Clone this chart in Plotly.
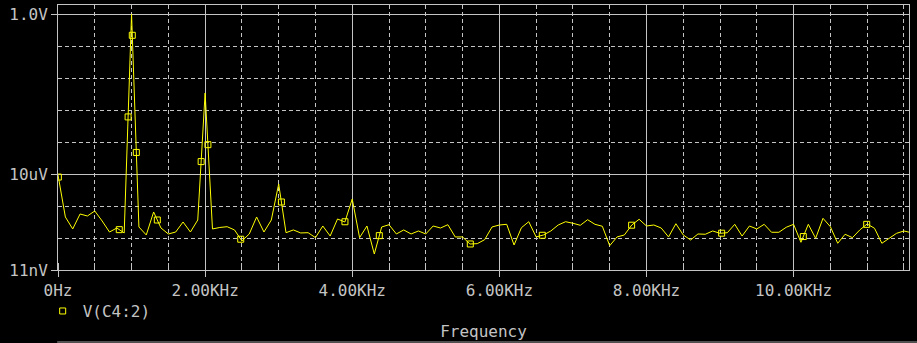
import numpy as np
import plotly.graph_objects as go

# FFT bins (Hz)
freq_hz = [
    0, 100, 200, 300, 400, 500, 600, 700, 800, 900,
    1000, 1100, 1200, 1300, 1400, 1500, 1600, 1700, 1800, 1900,
    2000, 2100, 2200, 2300, 2400, 2500, 2600, 2700, 2800, 2900,
    3000, 3100, 3200, 3300, 3400, 3500, 3600, 3700, 3800, 3900,
    4000, 4100, 4200, 4300, 4400, 4500, 4600, 4700, 4800, 4900,
    5000, 5100, 5200, 5300, 5400, 5500, 5600, 5700, 5800, 5900,
    6000, 6100, 6200, 6300, 6400, 6500, 6600, 6700, 6800, 6900,
    7000, 7100, 7200, 7300, 7400, 7500, 7600, 7700, 7800, 7900,
    8000, 8100, 8200, 8300, 8400, 8500, 8600, 8700, 8800, 8900,
    9000, 9100, 9200, 9300, 9400, 9500, 9600, 9700, 9800, 9900,
    10000, 10100, 10200, 10300, 10400, 10500, 10600, 10700, 10800, 10900,
    11000, 11100, 11200, 11300, 11400, 11500, 11600,
]

# V(C4:2) magnitude (V)
v_c4_2 = [
    1.01e-5, 4.94e-7, 2.09e-7, 6.12e-7, 5.31e-7, 7.60e-7, 3.71e-7, 1.68e-7, 2.24e-7, 1.57e-7,
    1.05, 2.41e-7, 1.36e-7, 7.08e-7, 2.24e-7, 1.46e-7, 1.68e-7, 3.45e-7, 1.68e-7, 3.98e-7,
    3.62e-3, 2.09e-7, 2.33e-7, 2.46e-7, 1.95e-7, 8.83e-8, 1.46e-7, 4.94e-7, 1.68e-7, 3.98e-7,
    5.28e-6, 1.60e-7, 1.95e-7, 1.57e-7, 1.60e-7, 1.12e-7, 2.59e-7, 1.26e-7, 4.28e-7, 3.45e-7,
    1.80e-6, 1.12e-7, 2.59e-7, 3.47e-8, 2.41e-7, 2.84e-7, 1.46e-7, 1.95e-7, 1.46e-7, 1.81e-7,
    1.46e-7, 2.59e-7, 2.24e-7, 2.84e-7, 1.18e-7, 1.18e-7, 7.11e-8, 7.28e-8, 9.69e-8, 2.41e-7,
    2.78e-7, 2.92e-7, 6.62e-8, 2.29e-7, 3.52e-7, 1.18e-7, 1.36e-7, 1.81e-7, 2.78e-7, 3.52e-7,
    3.15e-7, 2.72e-7, 4.07e-7, 2.92e-7, 2.54e-7, 6.30e-8, 1.18e-7, 1.36e-7, 2.78e-7, 4.19e-7,
    2.59e-7, 2.78e-7, 2.24e-7, 1.18e-7, 3.05e-7, 1.36e-7, 9.48e-8, 1.46e-7, 1.43e-7, 1.81e-7,
    1.53e-7, 1.60e-7, 2.92e-7, 1.26e-7, 2.59e-7, 2.09e-7, 2.92e-7, 1.65e-7, 1.65e-7, 2.36e-7,
    2.92e-7, 8.04e-8, 2.92e-7, 1.07e-7, 4.50e-7, 2.46e-7, 7.48e-8, 1.43e-7, 1.12e-7, 1.95e-7,
    2.99e-7, 2.20e-7, 7.48e-8, 1.07e-7, 1.53e-7, 1.81e-7, 1.60e-7,
]

# frequencies along the trace where PSpice drew its marker squares
marker_freq_hz = [5, 833, 953, 1010, 1065, 1350, 1946, 2038, 2484, 3037,
                  3901, 4368, 5605, 6584, 7798, 9022, 10132, 10994]

x_tick_vals = [0, 2000, 4000, 6000, 8000, 10000]
x_tick_text = ["0Hz", "2.00KHz", "4.00KHz", "6.00KHz", "8.00KHz", "10.00KHz"]
y_tick_text = ["1.0V", "10uV", "11nV"]

Y_TOP_V = 1.0
Y_BOT_V = 11e-9
N_DIV = 8

fg = "#c4c4c4"
yellow = "#ffff00"

# evenly spaced (log) grid between 1.0V and 11nV
span = np.log10(Y_TOP_V) - np.log10(Y_BOT_V)
grid_vals = [10 ** (np.log10(Y_TOP_V) - k * span / N_DIV) for k in range(N_DIV + 1)]
major_y = [grid_vals[0], grid_vals[5], grid_vals[8]]
minor_y = [g for i, g in enumerate(grid_vals) if i not in (0, 5, 8)]

logv = np.log10(np.array(v_c4_2))
mk_y = 10 ** np.interp(marker_freq_hz, freq_hz, logv)

fig = go.Figure()
fig.add_trace(go.Scatter(
    x=freq_hz, y=v_c4_2, mode="lines",
    line=dict(color=yellow, width=1), showlegend=False, hoverinfo="skip",
))
fig.add_trace(go.Scatter(
    x=marker_freq_hz, y=mk_y, mode="markers", name="V(C4:2)",
    marker=dict(symbol="square-open", size=6, color=yellow, line=dict(color=yellow, width=1)),
    showlegend=True,
))

dash = "4px,3px"
fig.update_layout(
    width=917, height=343,
    margin=dict(l=58, r=8, t=5, b=73),
    paper_bgcolor="black", plot_bgcolor="black",
    font=dict(family="DejaVu Sans Mono", size=16, color=fg),
    legend=dict(x=-0.018, y=-0.155, xanchor="left", yanchor="middle",
                bgcolor="rgba(0,0,0,0)", font=dict(size=16, color=fg),
                itemwidth=30, tracegroupgap=0),
    xaxis=dict(
        range=[0, 11569], tickmode="array", tickvals=x_tick_vals, ticktext=x_tick_text,
        showgrid=True, gridcolor=fg, gridwidth=1,
        minor=dict(dtick=500, tick0=0, showgrid=True, gridcolor=fg, griddash=dash,
                   ticks="inside", ticklen=7, tickcolor=fg),
        showline=True, linecolor=fg, linewidth=1, mirror=True,
        ticks="outside", ticklen=6, tickcolor=fg, zeroline=False,
        title=dict(text="Frequency", standoff=26, font=dict(size=16, color=fg)),
    ),
    yaxis=dict(
        type="log", range=[np.log10(Y_BOT_V), 0.302],
        tickmode="array", tickvals=major_y, ticktext=y_tick_text,
        showgrid=True, gridcolor=fg, gridwidth=1,
        minor=dict(tickmode="array", tickvals=minor_y, showgrid=True, gridcolor=fg,
                   griddash=dash, ticks=""),
        showline=True, linecolor=fg, linewidth=1, mirror=True,
        ticks="outside", ticklen=6, tickcolor=fg, zeroline=False,
    ),
    shapes=[dict(type="line", xref="paper", yref="paper", x0=-0.001, x1=1.02,
                 y0=-0.2717, y1=-0.2717, line=dict(color="#a0a0a0", width=1))],
)

fig.write_html("out.html")
